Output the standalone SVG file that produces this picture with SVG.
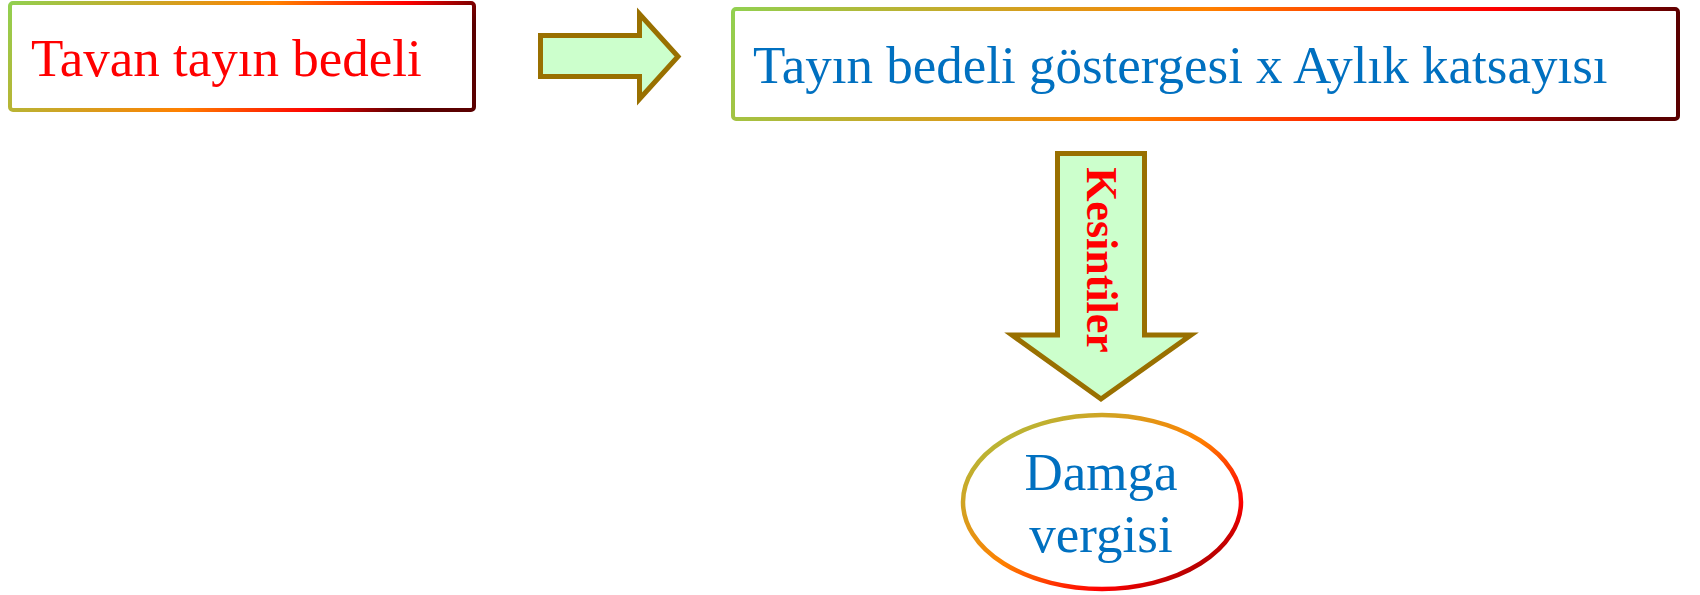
<svg xmlns="http://www.w3.org/2000/svg" width="1700" height="595" viewBox="0 0 1700 595">
<defs>
<linearGradient id="gBox1" x1="0" y1="0" x2="1" y2="0.2">
<stop offset="0" stop-color="#92d050"/>
<stop offset="0.55" stop-color="#ff8000"/>
<stop offset="0.82" stop-color="#ff0000"/>
<stop offset="1" stop-color="#5a0000"/>
</linearGradient>
<linearGradient id="gBox2" x1="0" y1="0" x2="1" y2="0.08">
<stop offset="0" stop-color="#92d050"/>
<stop offset="0.5" stop-color="#ff8000"/>
<stop offset="0.8" stop-color="#ff0000"/>
<stop offset="1" stop-color="#5a0000"/>
</linearGradient>
<linearGradient id="gEll" x1="0" y1="0" x2="1" y2="1">
<stop offset="0" stop-color="#a0c848"/>
<stop offset="0.5" stop-color="#ff8000"/>
<stop offset="0.75" stop-color="#ff0000"/>
<stop offset="1" stop-color="#5a0000"/>
</linearGradient>
<style>
.txt{font-family:"Liberation Serif","Times New Roman",serif;font-size:53px}
.red{fill:#ff0000}
.blue{fill:#0070c0}
.arrow{fill:#ccffcc;stroke:#997000;stroke-width:5;stroke-linejoin:miter}
</style>
</defs>
<g id="node-tavan">
<rect x="10" y="3" width="464" height="107" rx="3" fill="#ffffff" stroke="url(#gBox1)" stroke-width="4"/>
<text class="txt red" x="31" y="76">Tavan tayın bedeli</text>
</g>
<g id="node-formula">
<rect x="733" y="9" width="945" height="110" rx="3" fill="#ffffff" stroke="url(#gBox2)" stroke-width="4"/>
<text class="txt blue" x="753" y="83">Tayın bedeli göstergesi x Aylık katsayısı</text>
</g>
<g id="node-damga">
<ellipse cx="1102" cy="502" rx="139" ry="87" fill="#ffffff" stroke="url(#gEll)" stroke-width="4.5"/>
<text class="txt blue" x="1101" y="490" text-anchor="middle">Damga</text>
<text class="txt blue" x="1101" y="552" text-anchor="middle">vergisi</text>
</g>
<g id="connectors">
<path class="arrow" d="M540.5,35.5 H639.5 V14 L678,56.5 L639.5,99 V76.5 H540.5 Z"/>
<path class="arrow" d="M1057.5,153.5 H1144.5 V335 H1191 L1101,399 L1012,335 H1057.5 Z"/>
<text x="0" y="0" text-anchor="middle" transform="translate(1087,260) rotate(90)" style="font-family:'Liberation Serif','Times New Roman',serif;font-size:44px;font-weight:bold;fill:#ff0000">Kesintiler</text>
</g>
</svg>
